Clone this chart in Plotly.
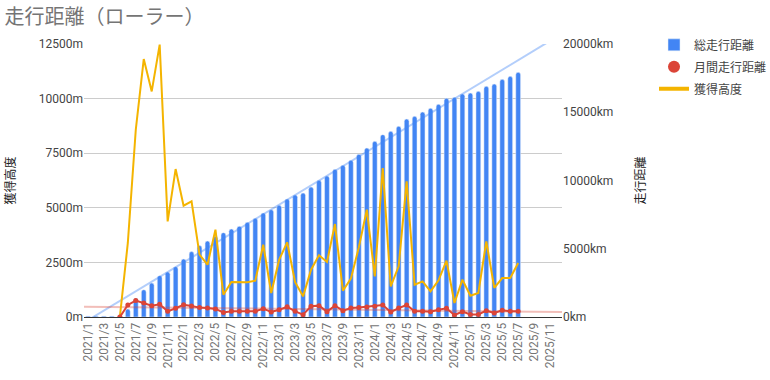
import numpy as np
import plotly.graph_objects as go

years = [2021, 2022, 2023, 2024, 2025]
months = [f"{y}/{m}" for y in years for m in range(1, 13)]
tick_labels = months[::2]

total_km = [60, 60, 60, 60, 60, 587, 1370, 2000, 2490, 3030, 3300, 3690,
            4250, 4790, 5230, 5570, 5910, 6180, 6450, 6650, 6935, 7230, 7620, 7860,
            8180, 8645, 8940, 9085, 9525, 10010, 10330, 10820, 11110, 11480, 11920, 12380,
            12870, 13360, 13600, 13970, 14505, 14700, 15020, 15290, 15580, 16020, 16090, 16340,
            16410, 16530, 16900, 17070, 17410, 17630, 17925, None, None, None, None, None]

monthly_km = [None, None, None, None, 0, 550, 750, 640, 520, 580, 260, 400,
              560, 500, 430, 410, 370, 210, 260, 260, 260, 260, 380, 230,
              335, 470, 260, 107, 490, 520, 245, 520, 290, 410, 430, 460,
              490, 550, 230, 410, 550, 260, 260, 245, 335, 400, 90, 245,
              120, 120, 290, 180, 305, 260, 260, None, None, None, None, None]

elevation_m = [None, None, None, None, 0, 3390, 8575, 11810, 10330, 12470, 4380, 6775,
               5100, 5295, 2855, 2395, 4000, 1020, 1600, 1600, 1590, 1665, 3310, 1100,
               2625, 3420, 1590, 945, 2165, 2825, 2520, 4255, 1205, 1755, 3190, 4915,
               1860, 6820, 1405, 2320, 6210, 1480, 1630, 1175, 1680, 2580, 640, 1710,
               975, 1100, 3465, 1330, 1785, 1785, 2470, None, None, None, None, None]

BLUE = "#4285F4"
RED = "#DB4437"
ORANGE = "#F4B400"
FONT = "Roboto, 'Noto Sans CJK JP', sans-serif"


def trend(values):
    idx = np.array([i for i, v in enumerate(values) if v is not None], dtype=float)
    val = np.array([v for v in values if v is not None], dtype=float)
    a, b = np.polyfit(idx, val, 1)
    xs = np.arange(-1, len(months) + 1)
    return xs, a * xs + b


x_idx = list(range(len(months)))
tx, ty_total = trend(total_km)
mx, ty_month = trend(monthly_km)

fig = go.Figure()
fig.add_trace(go.Bar(x=x_idx, y=total_km, name="総走行距離", marker=dict(color=BLUE, cornerradius=3),
                     yaxis="y", showlegend=False))
fig.add_trace(go.Scatter(x=tx, y=ty_total, mode="lines", line=dict(color="rgba(66,133,244,0.4)", width=2),
                         yaxis="y", showlegend=False, hoverinfo="skip"))
fig.add_trace(go.Scatter(x=mx, y=ty_month, mode="lines", line=dict(color="rgba(219,68,55,0.35)", width=2),
                         yaxis="y2", showlegend=False, hoverinfo="skip"))
fig.add_trace(go.Scatter(x=x_idx, y=elevation_m, mode="lines", name="獲得高度",
                         line=dict(color=ORANGE, width=2), yaxis="y2", showlegend=False))
fig.add_trace(go.Scatter(x=x_idx, y=monthly_km, mode="lines+markers", name="月間走行距離",
                         line=dict(color=RED, width=2), marker=dict(size=5, color=RED),
                         yaxis="y2", showlegend=False))

# legend entries
fig.add_trace(go.Bar(x=[None], y=[None], name="総走行距離", marker=dict(color=BLUE), yaxis="y",
                     legendgroup="a"))
fig.add_trace(go.Scatter(x=[None], y=[None], mode="markers", name="月間走行距離",
                         marker=dict(color=RED, size=12), yaxis="y2", legendgroup="b"))
fig.add_trace(go.Scatter(x=[None], y=[None], mode="lines", name="獲得高度",
                         line=dict(color=ORANGE, width=4), yaxis="y2", legendgroup="c"))

fig.update_layout(
    width=770, height=380,
    margin=dict(l=84, r=208, t=44, b=63, autoexpand=False),
    paper_bgcolor="white", plot_bgcolor="white",
    font=dict(family=FONT, size=12, color="#444"),
    title=dict(text="走行距離（ローラー）", x=0.006, xref="container", xanchor="left",
               y=0.955, yref="container", yanchor="middle",
               font=dict(size=20, color="#757575", family=FONT)),
    bargap=0.4,
    showlegend=True,
    legend=dict(x=1.1925, y=1.05, xanchor="left", yanchor="top", font=dict(size=12, color="#444"),
                bgcolor="rgba(0,0,0,0)", itemwidth=30, tracegroupgap=3),
    xaxis=dict(range=[-0.5, 59.5], tickmode="array", tickvals=x_idx[::2], ticktext=tick_labels,
               tickangle=-90, tickfont=dict(size=12, color="#757575"), showgrid=False,
               showline=True, linecolor="#333", linewidth=1, ticks="", zeroline=False,
               automargin=False),
    yaxis=dict(side="right", range=[0, 20000], tickvals=[0, 5000, 10000, 15000, 20000],
               ticktext=["0km", "5000km", "10000km", "15000km", "20000km"], showgrid=False,
               zeroline=False, tickfont=dict(size=12, color="#444"), automargin=False,
               title=dict(text="走行距離", font=dict(size=12, color="#222"), standoff=24)),
    yaxis2=dict(side="left", overlaying="y", range=[0, 12500],
                tickvals=[0, 2500, 5000, 7500, 10000, 12500],
                ticktext=["0m", "2500m", "5000m", "7500m", "10000m", "12500m"],
                showgrid=True, gridcolor="#cccccc", gridwidth=1, zeroline=False,
                tickfont=dict(size=12, color="#444"), automargin=False,
                title=dict(text="獲得高度", font=dict(size=12, color="#222"), standoff=20)),
)

fig.write_html("out.html", config={"displayModeBar": False},
               post_script="document.body.style.margin='0';")
